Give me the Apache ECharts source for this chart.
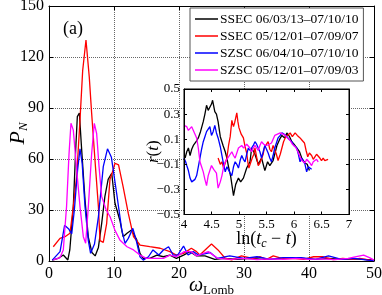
<!DOCTYPE html>
<html><head><meta charset="utf-8">
<script src="https://cdn.jsdelivr.net/npm/echarts@6/dist/echarts.min.js"></script>
<style>html,body{margin:0;padding:0;background:#fff}#c{width:382px;height:295px}</style>
</head><body><div id="c"></div>
<script>
// ---------- Main panel: Lomb periodogram P_N vs omega ----------
const seriesNames = ['SSEC 06/03/13\u201307/10/10','SSEC 05/12/01\u201307/09/07','SZSC 06/04/10\u201307/10/10','SZSC 05/12/01\u201307/09/03'];
const seriesColors = ['#000000','#ff0000','#0000ff','#ff00ff'];
const mainXTicks = [0,10,20,30,40,50];
const mainYTicks = [0,30,60,90,120,150];
const insetXTicks = [4,4.5,5,5.5,6,6.5,7];
const insetYTicks = [-0.5,-0.3,-0.1,0.1,0.3,0.5];

const wBlack = [0.5,1.4,2.2,2.9,3.2,3.74,4.1,4.36,4.67,5.0,5.54,6.05,6.6,7.1,7.6,8.1,8.6,9.1,9.65,10.15,10.9,11.4,12.0,12.7,13.5,14.0,14.5,15.5,16.6,17.6,18.6,19.6,20.7,21.7,22.7,24.0,25.5,27,29,31,33,35,37,39,41,43,45,47,49,50];
const pBlack = [0.5,1.5,3.5,0.6,6.5,32,65,85,87,67,36,14,5,3,8,22,38,48,51.6,34,24,14.3,16.3,18.2,12.4,4.5,1.6,1.5,3.5,2.5,3.5,1.5,3.5,5.5,3,3,1,1.5,1,1.5,1,1.2,2,1.5,1,1.5,1,1.2,0.8,0.5];

const wRed = [0.66,1.69,2.46,3.23,3.74,4.26,4.77,5.18,5.69,6.2,6.56,7.08,7.6,7.85,8.35,8.87,9.38,9.9,10.15,10.7,11.4,12.2,13.0,14,15.5,17.1,18.6,19.6,20.7,21.9,22.7,23.2,24.3,25,26,27.1,28.1,29.6,31.3,32.5,33.5,34.5,36.1,37.5,39.2,40.7,42.2,43.7,45.2,46.8,47.8,49.3,50];
const pRed = [8.4,13.3,14.3,16.3,32,50,83,112,130,108,87,59,32,12,11,22,48,54,57.5,56.5,43.7,28,14.3,9.4,8.4,7.5,5.5,3.5,4.5,7.5,5.5,3.5,7.5,10,6.5,1.6,0.6,3,1.5,2.5,1,3,1.2,1.5,1,2.5,2.5,0.8,1.5,1,1.5,0.5,0.5];

const wBlue = [0.5,1.7,2.4,3.0,3.5,3.9,4.4,4.77,5.1,5.54,6.05,6.4,7.0,7.6,8.35,9.0,9.6,10.4,11.2,11.7,12.2,12.9,13.4,14.0,14.5,15.3,16.0,16.9,17.6,18.4,19.1,19.8,20.7,21.4,22.2,23.0,24.8,25.9,27.8,30,32,34,36,38.8,41,43,45,47,49,50];
const pBlue = [0.5,5.5,21,19,16,30,53.5,66,57.5,32,12,4.5,10,26,55.5,66,61,40,18.2,10.4,13.3,19.2,12.4,2.5,0.5,2.5,6.5,3.5,6.5,8.4,3.5,3.5,8.8,3.5,5.5,3.5,5,1.5,3,1.5,2.5,1,2,2,1,3,1,1.5,0.5,0.3];

const wMag = [0.66,1.7,2.2,2.7,3.08,3.38,3.74,4.26,4.77,5.28,5.64,6.05,6.56,6.97,7.33,7.7,8.1,8.8,9.4,10.15,10.9,12,13,14,15,16,17.6,18.6,19.6,20.8,21.9,22.7,24.5,26,28,30,32,34,36,38,40,42,44,46,48.4,49.3,50];
const pMag = [0.6,2,6.5,32,63,81,77,53.5,32,14.3,10.4,32,63,81,75,55.5,38,30,26,18,12.4,8.4,6.5,3.5,1.5,1.5,1.5,3.5,2.5,5.5,5.5,3,5.5,1.5,1,1.5,0.8,1.2,1,1.5,1,1.2,0.8,1.5,3.5,2,0.5];

// ---------- Inset: r(t) vs ln(tc - t) ----------
const lnBlack = [4.02,4.05,4.08,4.11,4.14,4.17,4.22,4.26,4.3,4.35,4.38,4.41,4.44,4.47,4.5,4.52,4.56,4.59,4.62,4.66,4.71,4.75,4.78,4.81,4.85,4.9,4.94,4.99,5.03,5.08,5.14,5.2,5.23,5.29,5.35,5.41,5.47,5.52,5.56,5.62,5.69,5.74,5.78,5.83,5.87,5.92,5.96,6.0,6.05,6.1,6.14,6.2,6.24,6.28];
const rBlack = [-0.05,0.0,0.03,-0.03,0.02,0.05,0.08,0.11,0.16,0.24,0.3,0.37,0.33,0.32,0.38,0.41,0.32,0.3,0.24,0.12,0.05,0.0,-0.05,-0.12,-0.2,-0.35,-0.26,-0.21,-0.24,-0.21,-0.13,-0.08,0.03,-0.02,-0.1,-0.05,-0.15,-0.08,-0.11,-0.07,0.05,0.1,0.13,0.11,0.15,0.12,0.08,0.06,0.03,0.0,-0.05,-0.09,-0.1,-0.15];

const lnRed = [4.62,4.66,4.69,4.72,4.75,4.78,4.81,4.84,4.87,4.9,4.92,4.94,4.96,4.98,5.0,5.04,5.08,5.11,5.14,5.16,5.18,5.21,5.24,5.27,5.29,5.32,5.35,5.38,5.41,5.44,5.46,5.5,5.53,5.56,5.59,5.62,5.65,5.68,5.71,5.75,5.78,5.81,5.84,5.88,5.93,5.97,6.02,6.06,6.11,6.15,6.19,6.22,6.25,6.28,6.32,6.35,6.38,6.41,6.44,6.47,6.5,6.53,6.56,6.59,6.62];
const rRed = [-0.05,-0.1,-0.08,-0.13,-0.12,-0.05,0.05,0.12,0.25,0.2,0.23,0.27,0.31,0.24,0.19,0.14,0.11,0.04,-0.01,-0.08,-0.13,-0.09,-0.05,-0.02,0.03,-0.04,-0.11,-0.09,-0.08,-0.02,0.03,0.06,0.08,0.02,0.0,0.05,0.04,-0.02,-0.07,-0.02,0.03,0.08,0.11,0.13,0.15,0.12,0.15,0.13,0.11,0.09,0.07,0.01,-0.04,-0.01,-0.03,-0.06,-0.04,-0.02,-0.01,-0.05,-0.07,-0.05,-0.07,-0.06,-0.06];

const lnBlue = [4.0,4.03,4.05,4.08,4.11,4.14,4.17,4.2,4.23,4.26,4.29,4.32,4.35,4.38,4.41,4.44,4.47,4.5,4.53,4.56,4.59,4.62,4.66,4.69,4.72,4.75,4.78,4.81,4.84,4.87,4.9,4.93,4.96,4.99,5.02,5.05,5.08,5.11,5.14,5.17,5.2,5.23,5.26,5.29,5.32,5.35,5.38,5.41,5.44,5.47,5.5,5.53,5.56,5.59,5.62,5.65,5.68,5.71,5.75,5.78,5.82,5.87,5.91,5.96,6.0,6.05,6.08,6.11,6.14,6.17,6.2,6.23,6.26,6.29,6.32];
const rBlue = [-0.05,-0.08,-0.11,-0.15,-0.21,-0.24,-0.25,-0.22,-0.19,-0.12,-0.05,0.02,0.08,0.12,0.16,0.18,0.2,0.13,0.16,0.21,0.15,0.11,0.04,-0.03,-0.1,-0.16,-0.12,-0.13,-0.17,-0.19,-0.12,-0.08,-0.1,-0.13,-0.07,-0.03,-0.06,-0.08,-0.02,0.03,0.01,0.0,0.05,0.08,0.06,0.05,0.0,-0.05,0.0,0.05,0.02,-0.01,-0.05,-0.08,-0.03,0.03,0.07,0.11,0.13,0.15,0.14,0.12,0.1,0.08,0.05,0.03,-0.02,-0.08,-0.05,-0.05,-0.1,-0.16,-0.12,-0.13,-0.14];

const lnMag = [4.0,4.03,4.05,4.08,4.11,4.14,4.17,4.2,4.23,4.26,4.29,4.32,4.35,4.38,4.41,4.44,4.47,4.5,4.54,4.59,4.62,4.66,4.69,4.72,4.75,4.78,4.81,4.84,4.87,4.9,4.93,4.96,4.99,5.02,5.05,5.08,5.11,5.14,5.17,5.2,5.23,5.26,5.29,5.32,5.35,5.38,5.41,5.45,5.5,5.55,5.59,5.62,5.65,5.7,5.75,5.8,5.84,5.88,5.93,5.97,6.02,6.05,6.08,6.11,6.14,6.17,6.2,6.23,6.26,6.29,6.32,6.35,6.38,6.41,6.44];
const rMag = [0.21,0.2,0.2,0.17,0.16,0.2,0.21,0.14,0.11,0.03,-0.08,-0.12,-0.16,-0.22,-0.27,-0.19,-0.15,-0.11,-0.14,-0.17,-0.29,-0.24,-0.19,-0.12,-0.08,-0.06,-0.05,-0.02,0.0,-0.03,-0.05,-0.01,0.03,0.04,0.05,0.03,0.04,0.06,0.07,0.03,0.0,0.03,0.05,0.04,0.01,0.05,0.08,0.06,0.05,0.06,0.07,0.1,0.13,0.14,0.15,0.14,0.13,0.11,0.09,0.06,0.04,0.02,-0.01,-0.04,-0.07,-0.08,-0.09,-0.06,-0.07,-0.09,-0.11,-0.08,-0.07,-0.06,-0.08];

function zip(a,b){return a.map((v,i)=>[v,b[i]]);}
const mainX = [wBlack,wRed,wBlue,wMag];
const mainY = [pBlack,pRed,pBlue,pMag];
const insX = [lnBlack,lnRed,lnBlue,lnMag];
const insY = [rBlack,rRed,rBlue,rMag];

const serif = 'Liberation Serif';
const minus = v => String(+v.toFixed(2)).replace('-', '\u2212');

const chart = echarts.init(document.getElementById('c'), null, {renderer:'canvas'});
const series = [];
for (let i=0;i<4;i++){
  series.push({name:seriesNames[i], type:'line', xAxisIndex:0, yAxisIndex:0, data:zip(mainX[i],mainY[i]),
    symbol:'none', lineStyle:{color:seriesColors[i], width:1.3}, itemStyle:{color:seriesColors[i]}, z:2, animation:false});
}
for (let i=0;i<4;i++){
  series.push({name:seriesNames[i], type:'line', xAxisIndex:2, yAxisIndex:2, data:zip(insX[i],insY[i]),
    symbol:'none', lineStyle:{color:seriesColors[i], width:1.3}, itemStyle:{color:seriesColors[i]}, z:7, animation:false});
}

const tickInside = {show:true, inside:true, length:4, lineStyle:{color:'#000'}};
const gridLine = {show:true, lineStyle:{color:'#666', type:'dotted', width:1}};
chart.setOption({
  backgroundColor:'#fff',
  animation:false,
  title:{text:'(a)', left:58, top:15, z:10, textStyle:{fontFamily:serif, fontSize:18, fontWeight:'normal', color:'#000'}},
  legend:{
    data:seriesNames, orient:'vertical', left:190, top:8, z:20,
    backgroundColor:'#fff', borderColor:'#555', borderWidth:1, padding:[4,5,4,5],
    itemGap:3, itemWidth:23, itemHeight:1.5, icon:'rect',
    textStyle:{fontFamily:serif, fontSize:13.5, color:'#000', padding:[0,0,0,-3]}
  },
  grid:[
    {left:49, right:8, top:6, bottom:34, show:false, z:0, outerBoundsMode:'none', containLabel:false},
    {left:184, right:33, top:89, bottom:80.5, show:true, backgroundColor:'#fff', borderColor:'#000', borderWidth:1, z:5, outerBoundsMode:'none', containLabel:false}
  ],
  xAxis:[
    {type:'value', gridIndex:0, min:0, max:50, interval:10, position:'bottom',
     axisLine:{show:true, onZero:false, lineStyle:{color:'#000'}}, axisTick:tickInside,
     axisLabel:{fontFamily:serif, fontSize:16, color:'#000', margin:5},
     splitLine:gridLine,
     name:'{w|\u03c9}{s|Lomb}', nameLocation:'middle', nameGap:13, nameMoveOverlap:false,
     nameTextStyle:{verticalAlign:'top', rich:{w:{fontFamily:serif, fontStyle:'italic', fontSize:20, color:'#000'}, s:{fontFamily:serif, fontSize:13, color:'#000', padding:[10,0,0,0]}}}},
    {type:'value', gridIndex:0, min:0, max:50, interval:10, position:'top',
     axisLine:{show:true, onZero:false, lineStyle:{color:'#000'}}, axisTick:tickInside, axisLabel:{show:false}, splitLine:{show:false}},
    {type:'value', gridIndex:1, min:4, max:7, interval:0.5, position:'bottom', z:8,
     axisLine:{show:true, onZero:false, lineStyle:{color:'#000'}}, axisTick:{show:true, inside:true, length:3, lineStyle:{color:'#000'}},
     axisLabel:{fontFamily:serif, fontSize:13, color:'#000', margin:4, formatter:v=>minus(v)},
     splitLine:{show:false},
     name:'{n|ln(}{t|t}{c|c}{n| \u2212 }{t|t}{n|)}', nameLocation:'middle', nameGap:15, nameMoveOverlap:false,
     nameTextStyle:{verticalAlign:'top', rich:{n:{fontFamily:serif, fontSize:18, color:'#000'}, t:{fontFamily:serif, fontStyle:'italic', fontSize:18, color:'#000'}, c:{fontFamily:serif, fontStyle:'italic', fontSize:12, color:'#000', padding:[8,0,0,0]}}}},
    {type:'value', gridIndex:1, min:4, max:7, interval:0.5, position:'top', z:8,
     axisLine:{show:true, onZero:false, lineStyle:{color:'#000'}}, axisTick:{show:true, inside:true, length:3, lineStyle:{color:'#000'}}, axisLabel:{show:false}, splitLine:{show:false}}
  ],
  yAxis:[
    {type:'value', gridIndex:0, min:0, max:150, interval:30, position:'left',
     axisLine:{show:true, onZero:false, lineStyle:{color:'#000'}}, axisTick:tickInside,
     axisLabel:{fontFamily:serif, fontSize:16, color:'#000', margin:5},
     splitLine:gridLine,
     name:'{p|P}{n|N}', nameLocation:'middle', nameGap:19, nameRotate:90, nameMoveOverlap:false,
     nameTextStyle:{verticalAlign:'bottom', rich:{p:{fontFamily:serif, fontStyle:'italic', fontSize:22, color:'#000'}, n:{fontFamily:serif, fontStyle:'italic', fontSize:13, color:'#000', padding:[10,0,0,0]}}}},
    {type:'value', gridIndex:0, min:0, max:150, interval:30, position:'right',
     axisLine:{show:true, onZero:false, lineStyle:{color:'#000'}}, axisTick:tickInside, axisLabel:{show:false}, splitLine:{show:false}},
    {type:'value', gridIndex:1, min:-0.5, max:0.5, interval:0.2, position:'left', z:8,
     axisLine:{show:true, onZero:false, lineStyle:{color:'#000'}}, axisTick:{show:true, inside:true, length:3, lineStyle:{color:'#000'}},
     axisLabel:{fontFamily:serif, fontSize:13, color:'#000', margin:4, formatter:v=>minus(v)},
     splitLine:{show:false},
     name:'{t|r}{n|(}{t|t}{n|)}', nameLocation:'middle', nameGap:22, nameRotate:90, nameMoveOverlap:false,
     nameTextStyle:{verticalAlign:'bottom', rich:{n:{fontFamily:serif, fontSize:17, color:'#000'}, t:{fontFamily:serif, fontStyle:'italic', fontSize:17, color:'#000'}}}},
    {type:'value', gridIndex:1, min:-0.5, max:0.5, interval:0.2, position:'right', z:8,
     axisLine:{show:true, onZero:false, lineStyle:{color:'#000'}}, axisTick:{show:true, inside:true, length:3, lineStyle:{color:'#000'}}, axisLabel:{show:false}, splitLine:{show:false}}
  ],
  series: series
});
</script></body></html>
